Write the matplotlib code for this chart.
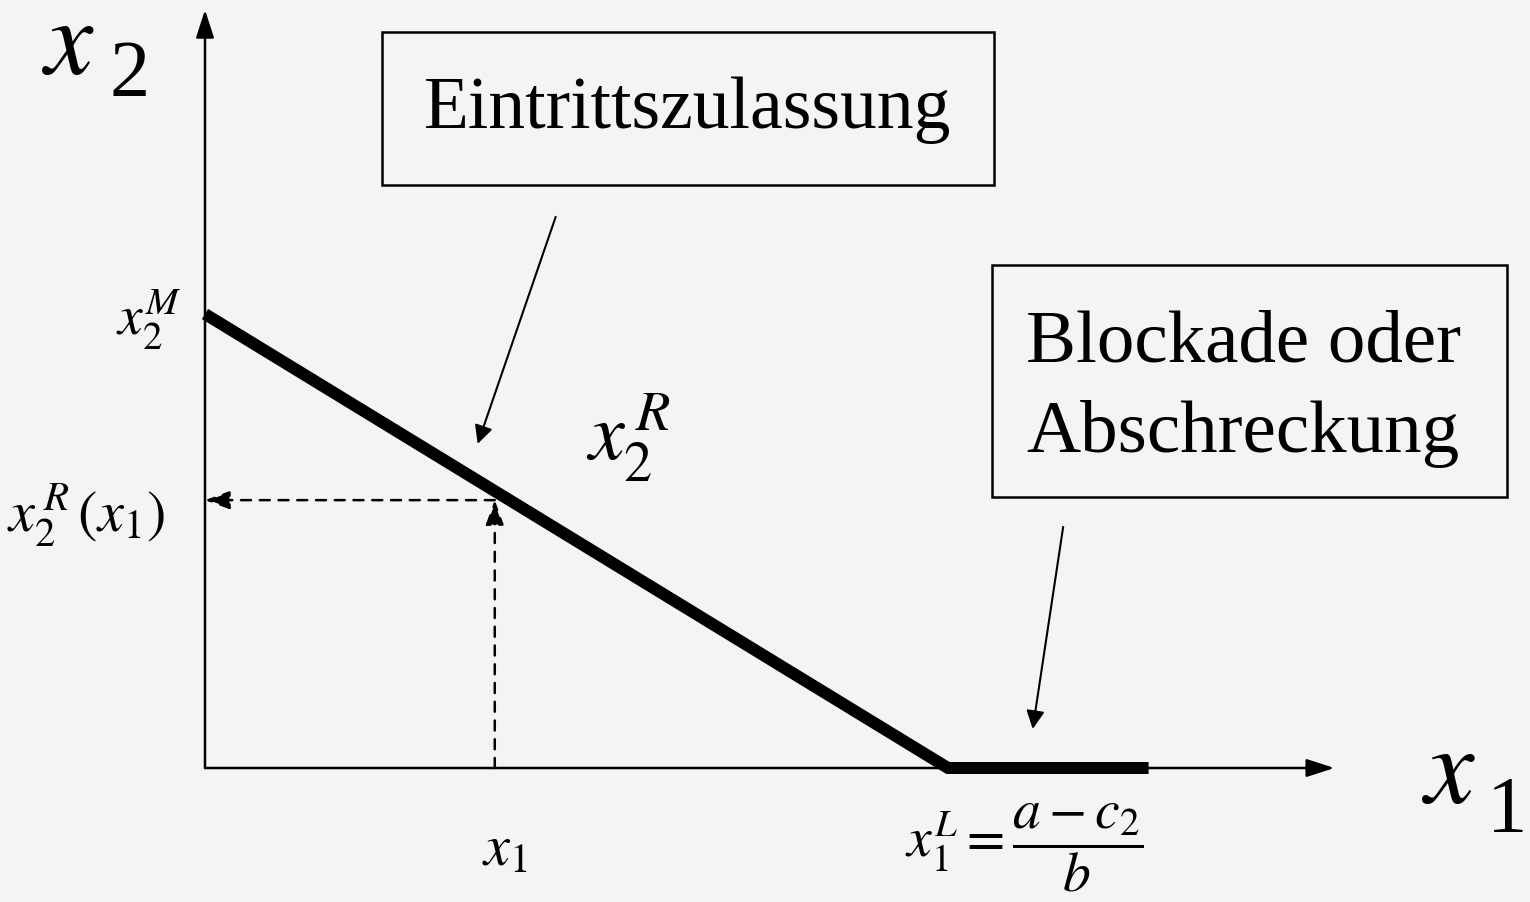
import matplotlib
matplotlib.use("Agg")
from matplotlib import pyplot as plt
from matplotlib.patches import Rectangle

plt.rcParams['font.family'] = ['Liberation Serif', 'DejaVu Serif']
plt.rcParams['mathtext.fontset'] = 'stix'

# reaction function of the entrant: falls from x2M to zero at x1L, zero beyond
x1_reaction = [0.0, 1.0, 1.27]
x2_reaction = [1.0, 0.0, 0.0]

# example point
x1_point = 0.39
x2_point = 0.59

x_axis_end = 1.52
y_axis_end = 1.67

bg = '#f4f4f4'

fig = plt.figure(figsize=(15.3, 9.03), dpi=100, facecolor=bg)
ax = fig.add_axes([0, 0, 1, 1])
ax.set_facecolor(bg)
ax.set_xlim(-205 / 743, 1325 / 743)
ax.set_ylim(-134 / 454, 769 / 454)
ax.axis('off')

# axes with arrows
arrow_kw = dict(arrowstyle='-|>,head_length=1.7,head_width=0.55', color='black', lw=1.8,
                shrinkA=0, shrinkB=0)
ax.annotate('', xy=(x_axis_end, 0), xytext=(0, 0), arrowprops=arrow_kw)
ax.annotate('', xy=(0, y_axis_end), xytext=(0, 0), arrowprops=arrow_kw)

# reaction curve
ax.plot(x1_reaction, x2_reaction, color='black', lw=8.6, solid_capstyle='butt',
        solid_joinstyle='miter', zorder=3)

# dashed guide lines
dash_kw = dict(arrowstyle='-|>,head_length=1.5,head_width=0.55', color='black', lw=1.8,
               linestyle=(0, (4, 3.5)), shrinkA=0, shrinkB=0)
ax.annotate('', xy=(x1_point, x2_point), xytext=(x1_point, 0), arrowprops=dash_kw)
ax.annotate('', xy=(0, x2_point), xytext=(x1_point, x2_point), arrowprops=dash_kw)

# big axis labels
ax.text(-0.183, 1.530, r'$x$', fontsize=78, ha='center', va='baseline')
ax.text(-0.101, 1.482, '2', fontsize=58, ha='center', va='baseline')
ax.text(1.674, -0.075, r'$x$', fontsize=80, ha='center', va='baseline')
ax.text(1.752, -0.138, '1', fontsize=58, ha='center', va='baseline')

# tick-like labels
ax.text(-0.031, 0.99, r'$x_2^M$', fontsize=40, ha='right', va='center')
ax.text(-0.054, 0.56, r'$x_2^{\,R}\,(x_1)$', fontsize=42, ha='right', va='center')
ax.text(0.404, -0.18, r'$x_1$', fontsize=42, ha='center', va='center')
ax.text(0.942, -0.173, r'$x_1^L = \dfrac{a - c_2}{b}$', fontsize=40, ha='left',
        va='center')
ax.text(0.57, 0.73, r'$x_2^{\,R}$', fontsize=58, ha='center', va='center')

# annotation boxes
box_kw = dict(boxstyle='square,pad=0.58', facecolor=bg, edgecolor='black', lw=1.8)
ax.text(0.650, 1.452, 'Eintrittszulassung', fontsize=53, ha='center', va='center',
        bbox=box_kw)

ax.add_patch(Rectangle((1.059, 0.597), 0.693, 0.511, facecolor=bg, edgecolor='black',
                       lw=1.8, zorder=2))
ax.text(1.398, 0.837, 'Blockade oder\nAbschreckung', fontsize=54, ha='center',
        va='center', multialignment='left', linespacing=1.42, zorder=3)

thin_kw = dict(arrowstyle='-|>,head_length=1.1,head_width=0.55', color='black', lw=1.5,
               shrinkA=0, shrinkB=0)
ax.annotate('', xy=(0.367, 0.714), xytext=(0.472, 1.214), arrowprops=thin_kw)
ax.annotate('', xy=(1.114, 0.086), xytext=(1.155, 0.531), arrowprops=thin_kw)

fig.savefig('out.png', dpi=100, facecolor=bg)
